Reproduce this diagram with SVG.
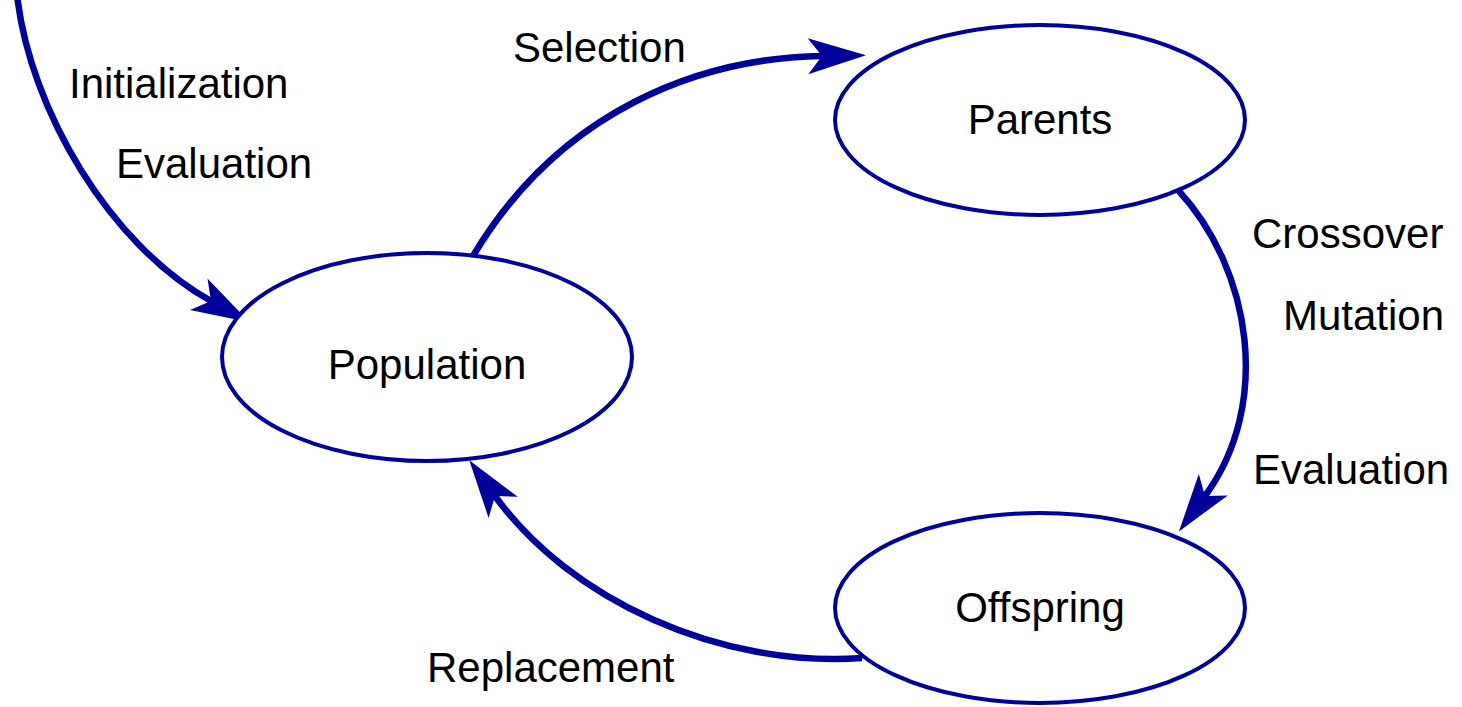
<svg xmlns="http://www.w3.org/2000/svg" width="1462" height="707" viewBox="0 0 1462 707">
<style>
.node{fill:#fff;stroke:#00009c;stroke-width:4}
.edge{fill:none;stroke:#00009c;stroke-width:6.5}
text{font-family:"Liberation Sans",Arial,sans-serif;font-size:42px;fill:#000}
.c{text-anchor:middle}
</style>
<defs>
<marker id="arr" markerUnits="userSpaceOnUse" orient="auto" refX="0" refY="0" markerWidth="100" markerHeight="100" overflow="visible">
<path d="M44,0 L-14,-18 L0,0 L-14,18 Z" fill="#00009c"/>
</marker>
</defs>
<g id="connectors">
<path class="edge" d="M17,-5 C30,110 110,245 211,301" marker-end="url(#arr)"/>
<path class="edge" d="M473,256 C560,110 700,58 822,56" marker-end="url(#arr)"/>
<path class="edge" d="M1178,190 C1252,270 1272,405 1205,496" marker-end="url(#arr)"/>
<path class="edge" d="M862,658 C720,668 570,600 495,496" marker-end="url(#arr)"/>
</g>
<g id="population">
<ellipse class="node" cx="427" cy="357" rx="205" ry="104"/>
<text class="c" x="427" y="379">Population</text>
</g>
<g id="parents">
<ellipse class="node" cx="1040" cy="120" rx="205" ry="95"/>
<text class="c" x="1040" y="134">Parents</text>
</g>
<g id="offspring">
<ellipse class="node" cx="1040" cy="608" rx="205" ry="95"/>
<text class="c" x="1040" y="622">Offspring</text>
</g>
<g id="labels">
<text x="513" y="62">Selection</text>
<text x="69" y="98">Initialization</text>
<text x="116" y="178">Evaluation</text>
<text x="1252" y="248">Crossover</text>
<text x="1283" y="330">Mutation</text>
<text x="1253" y="484">Evaluation</text>
<text x="427" y="682">Replacement</text>
</g>
</svg>
